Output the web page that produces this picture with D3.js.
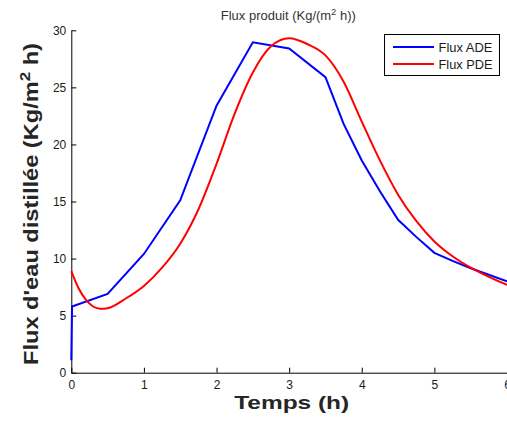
<!DOCTYPE html>
<html>
<head>
<meta charset="utf-8">
<script src="https://cdn.jsdelivr.net/npm/d3@7"></script>
<style>
  body { margin: 0; background: #fff; }
  svg { display: block; font-family: Arial, "Liberation Sans", sans-serif; }
</style>
</head>
<body>
<div id="chart"></div>
<script>
// time (h) and flux (Kg/m2 h)
var adeTime = [0, 0.01, 0.5, 1.0, 1.5, 2.0, 2.5, 3.0, 3.5, 3.75, 4.0, 4.25, 4.5, 4.75, 5.0, 5.25, 5.5, 6.0];
var adeFlux = [1.1, 5.8, 6.9, 10.4, 15.1, 23.4, 28.95, 28.4, 25.9, 21.8, 18.6, 15.9, 13.4, 11.9, 10.5, 9.8, 9.15, 8.0];

var pdeTime = [0, 0.1, 0.2, 0.3, 0.4, 0.5, 0.75, 1.0, 1.25, 1.5, 1.75, 2.0, 2.25, 2.5, 2.75, 3.0, 3.25, 3.5, 3.75, 4.0, 4.25, 4.5, 4.75, 5.0, 5.25, 5.5, 5.75, 6.0];
var pdeFlux = [8.9, 7.4, 6.4, 5.8, 5.6, 5.65, 6.5, 7.6, 9.2, 11.3, 14.3, 18.3, 22.7, 26.3, 28.6, 29.3, 28.8, 27.8, 25.5, 22.0, 18.6, 15.6, 13.3, 11.5, 10.2, 9.2, 8.4, 7.7];

var xTicks = [0, 1, 2, 3, 4, 5, 6];
var yTicks = [0, 5, 10, 15, 20, 25, 30];
var seriesNames = ["Flux ADE", "Flux PDE"];
var seriesColors = ["#0000ff", "#ff0000"];

var width = 507, height = 421;

var svg = d3.select("#chart").append("svg")
  .attr("width", width)
  .attr("height", height);

var x = d3.scaleLinear().domain([0, 6]).range([71.3, 507]);
var y = d3.scaleLinear().domain([0, 30]).range([372.7, 30.3]);

// AXES
var xAxis = svg.append("g")
  .attr("transform", "translate(0," + y(0) + ")")
  .call(d3.axisBottom(x).tickValues(xTicks).tickFormat(d3.format("d"))
    .tickSizeInner(-5).tickSizeOuter(0).tickPadding(8));

var yAxis = svg.append("g")
  .attr("transform", "translate(" + x(0) + ",0)")
  .call(d3.axisLeft(y).tickValues(yTicks).tickFormat(d3.format("d"))
    .tickSizeInner(-5).tickSizeOuter(0).tickPadding(5));

[xAxis, yAxis].forEach(function (a) {
  a.attr("font-family", "Arial, 'Liberation Sans', sans-serif").attr("font-size", 12);
  a.select(".domain").attr("stroke", "#000");
  a.selectAll(".tick line").attr("stroke", "#000");
  a.selectAll(".tick text").attr("fill", "#1a1a1a");
});

// LINES
var adeData = adeTime.map(function (t, i) { return { t: t, v: adeFlux[i] }; });
var pdeData = pdeTime.map(function (t, i) { return { t: t, v: pdeFlux[i] }; });

var lineLinear = d3.line()
  .x(function (d) { return x(d.t); })
  .y(function (d) { return y(d.v); });

var lineSmooth = d3.line()
  .curve(d3.curveMonotoneX)
  .x(function (d) { return x(d.t); })
  .y(function (d) { return y(d.v); });

svg.append("path")
  .attr("d", lineLinear(adeData))
  .attr("fill", "none")
  .attr("stroke", seriesColors[0])
  .attr("stroke-width", 2);

svg.append("path")
  .attr("d", lineSmooth(pdeData))
  .attr("fill", "none")
  .attr("stroke", seriesColors[1])
  .attr("stroke-width", 2);

// TITLE
var title = svg.append("text")
  .attr("x", 288.3)
  .attr("y", 20)
  .attr("text-anchor", "middle")
  .attr("font-size", 12.5)
  .attr("fill", "#333")
  .attr("textLength", 135)
  .attr("lengthAdjust", "spacingAndGlyphs");
title.append("tspan").text("Flux produit (Kg/(m");
title.append("tspan").attr("dy", -5).attr("font-size", 9).text("2");
title.append("tspan").attr("dy", 5).text(" h))");

// AXIS LABELS
svg.append("text")
  .attr("x", 291.7)
  .attr("y", 409)
  .attr("text-anchor", "middle")
  .attr("font-size", 19)
  .attr("font-weight", "bold")
  .attr("fill", "#262626")
  .attr("textLength", 115)
  .attr("lengthAdjust", "spacingAndGlyphs")
  .text("Temps (h)");

var yLabel = svg.append("text")
  .attr("transform", "translate(38,204) rotate(-90)")
  .attr("text-anchor", "middle")
  .attr("font-size", 19.5)
  .attr("font-weight", "bold")
  .attr("fill", "#262626")
  .attr("textLength", 322)
  .attr("lengthAdjust", "spacingAndGlyphs");
yLabel.append("tspan").text("Flux d'eau distillée (Kg/m");
yLabel.append("tspan").attr("dy", -8).attr("font-size", 14).text("2");
yLabel.append("tspan").attr("dy", 8).text(" h)");

// LEGEND
var legend = svg.append("g").attr("transform", "translate(384,34)");
legend.append("rect")
  .attr("x", 0.5).attr("y", 0.5)
  .attr("width", 115).attr("height", 41)
  .attr("fill", "#fff")
  .attr("stroke", "#000")
  .attr("stroke-width", 1);

seriesNames.forEach(function (name, i) {
  legend.append("line")
    .attr("x1", 9).attr("x2", 50)
    .attr("y1", 13 + i * 17).attr("y2", 13 + i * 17)
    .attr("stroke", seriesColors[i])
    .attr("stroke-width", 2);
  legend.append("text")
    .attr("x", 54.5)
    .attr("y", 17.5 + i * 17)
    .attr("font-size", 12.5)
    .attr("fill", "#1a1a1a")
    .attr("textLength", 54)
    .attr("lengthAdjust", "spacingAndGlyphs")
    .text(name);
});
</script>
</body>
</html>
